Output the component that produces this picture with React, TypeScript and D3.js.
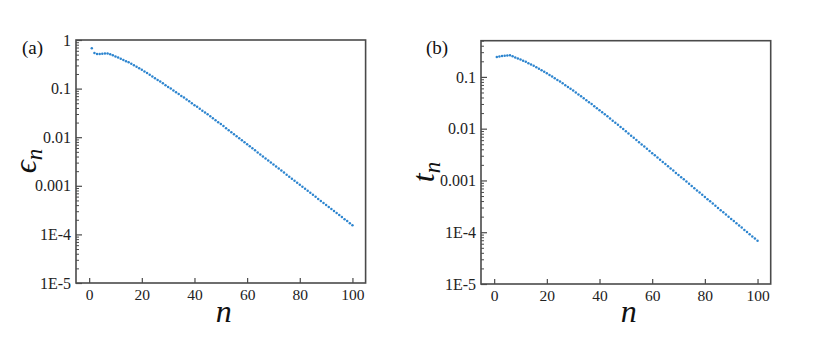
import { useRef, useEffect } from "react";
import * as d3 from "d3";

// values, n = 1..100
const epsilonValues = [
  0.676, 0.537, 0.513, 0.513, 0.519, 0.525, 0.525, 0.507, 0.484, 0.457,
  0.437, 0.412, 0.389, 0.367, 0.347, 0.324, 0.302, 0.282, 0.263, 0.245,
  0.226, 0.209, 0.193, 0.178, 0.164, 0.151, 0.14, 0.129, 0.117, 0.108,
  0.1, 0.0912, 0.0841, 0.0776, 0.0708, 0.0653, 0.0596, 0.055, 0.0501, 0.0457,
  0.0422, 0.0385, 0.0351, 0.0324, 0.0295, 0.0269, 0.0245, 0.0224, 0.0204, 0.0186,
  0.01692, 0.01537, 0.01397, 0.01269, 0.01153, 0.01048, 0.009524, 0.008653, 0.007864, 0.007145,
  0.006493, 0.0059, 0.005361, 0.004872, 0.004426, 0.004022, 0.003655, 0.003321, 0.003018, 0.002742,
  0.002492, 0.002264, 0.002057, 0.001869, 0.001698, 0.001543, 0.001402, 0.001274, 0.001158, 0.001052,
  9.56e-4, 8.69e-4, 7.89e-4, 7.17e-4, 6.52e-4, 5.92e-4, 5.38e-4, 4.89e-4, 4.44e-4, 4.04e-4,
  3.67e-4, 3.33e-4, 3.03e-4, 2.75e-4, 2.5e-4, 2.27e-4, 2.06e-4, 1.88e-4, 1.7e-4, 1.55e-4,
];

const tValues = [
  0.243, 0.248, 0.252, 0.256, 0.259, 0.263, 0.251, 0.237, 0.226, 0.216,
  0.205, 0.195, 0.184, 0.174, 0.164, 0.154, 0.144, 0.135, 0.126, 0.117,
  0.109, 0.102, 0.0944, 0.0875, 0.0811, 0.075, 0.0693, 0.064, 0.059, 0.0543,
  0.05, 0.0459, 0.0422, 0.0387, 0.0355, 0.0325, 0.0298, 0.0272, 0.0249, 0.0228,
  0.0207, 0.0189, 0.0173, 0.0157, 0.0143, 0.013, 0.0119, 0.0108, 0.00982, 0.00891,
  0.00808, 0.00733, 0.00665, 0.00604, 0.00548, 0.00497, 0.00451, 0.00409, 0.00371, 0.00337,
  0.00306, 0.00277, 0.00252, 0.00228, 0.00207, 0.00188, 0.0017, 0.00155, 0.0014, 0.00127,
  0.00115, 0.00105, 9.49e-4, 8.61e-4, 7.81e-4, 7.08e-4, 6.43e-4, 5.83e-4, 5.29e-4, 4.8e-4,
  4.35e-4, 3.95e-4, 3.58e-4, 3.25e-4, 2.95e-4, 2.67e-4, 2.43e-4, 2.2e-4, 2e-4, 1.81e-4,
  1.64e-4, 1.49e-4, 1.35e-4, 1.23e-4, 1.11e-4, 1.01e-4, 9.16e-5, 8.31e-5, 7.54e-5, 6.84e-5,
];

const xTicks = [0, 20, 40, 60, 80, 100];
const epsTicks = [1, 0.1, 0.01, 0.001, 1e-4, 1e-5];
const tTicks = [0.1, 0.01, 0.001, 1e-4, 1e-5];

const W = 830;
const H = 341;
const serif = "Liberation Serif";
const dotColor = "#2d85cf";
const frameColor = "#4a4a4a";

const fmtTick = (v) =>
  v >= 0.001 ? String(v) : `1E${Math.round(Math.log10(v))}`;

const styleText = (sel, size) =>
  sel
    .style("font-family", serif)
    .style("font-size", `${size}px`)
    .attr("fill", "#222");

const drawPanel = (svg, opt) => {
  const { left, right, top, bottom, yMax, values, ticks, tag, sym } = opt;
  const x = d3.scaleLinear().domain([-5, 105]).range([left, right]);
  const y = d3.scaleLog().domain([1e-5, yMax]).range([bottom, top]);
  const g = svg.append("g");

  // minor ticks on the log axis
  const minor = [];
  for (let e = -5; e < 0; e++) {
    for (let m = 2; m <= 9; m++) {
      const v = m * Math.pow(10, e);
      if (v <= yMax) minor.push(v);
    }
  }
  g.append("g")
    .attr("transform", `translate(${left},0)`)
    .call(d3.axisLeft(y).tickValues(minor).tickFormat("").tickSize(-3))
    .call((a) => a.select(".domain").remove())
    .selectAll("line")
    .attr("stroke", frameColor);

  // major y ticks
  const yAx = g.append("g")
    .attr("transform", `translate(${left},0)`)
    .call(
      d3.axisLeft(y).tickValues(ticks).tickFormat(fmtTick).tickSize(-6).tickPadding(5)
    );
  yAx.select(".domain").remove();
  yAx.selectAll("line").attr("stroke", frameColor).attr("stroke-width", 1.2);
  styleText(yAx.selectAll("text"), 16);

  // x ticks
  const xAx = g.append("g")
    .attr("transform", `translate(0,${bottom})`)
    .call(d3.axisBottom(x).tickValues(xTicks).tickSize(-5).tickPadding(6));
  xAx.select(".domain").remove();
  xAx.selectAll("line").attr("stroke", frameColor).attr("stroke-width", 1.2);
  styleText(xAx.selectAll("text"), 15.5);

  // frame
  g.append("rect")
    .attr("x", left)
    .attr("y", top)
    .attr("width", right - left)
    .attr("height", bottom - top)
    .attr("fill", "none")
    .attr("stroke", frameColor)
    .attr("stroke-width", 1.6);

  // dots
  g.selectAll("circle.pt")
    .data(values)
    .enter()
    .append("circle")
    .attr("class", "pt")
    .attr("cx", (d, i) => x(i + 1))
    .attr("cy", (d) => y(d))
    .attr("r", 1.25)
    .attr("fill", dotColor);

  // panel tag
  styleText(
    g.append("text").attr("x", opt.tagX).attr("y", 54).text(tag),
    19
  ).attr("fill", "#111");

  // y label
  const yl = g.append("text")
    .attr("transform", `translate(${opt.labelX},${opt.labelY}) rotate(-90)`)
    .attr("text-anchor", "middle")
    .style("font-family", serif)
    .style("font-style", "italic")
    .style("font-size", "32px")
    .attr("fill", "#111");
  yl.append("tspan").text(sym);
  yl.append("tspan").style("font-size", "23px").attr("dy", 6).text("n");

  // x label
  g.append("text")
    .attr("x", (x(0) + x(100)) / 2 + 3)
    .attr("y", 322)
    .attr("text-anchor", "middle")
    .style("font-family", serif)
    .style("font-style", "italic")
    .style("font-size", "32px")
    .attr("fill", "#111")
    .text("n");
};

const App = () => {
  const ref = useRef(null);

  useEffect(() => {
    const svg = d3.select(ref.current);
    svg.selectAll("*").remove();
    drawPanel(svg, {
      left: 76,
      right: 365.6,
      top: 40,
      bottom: 283,
      yMax: 1,
      values: epsilonValues,
      ticks: epsTicks,
      tag: "(a)",
      tagX: 22,
      labelX: 36,
      labelY: 161,
      sym: "\u03f5",
    });
    drawPanel(svg, {
      left: 481,
      right: 770.7,
      top: 40.7,
      bottom: 284,
      yMax: 0.5,
      values: tValues,
      ticks: tTicks,
      tag: "(b)",
      tagX: 426,
      labelX: 434,
      labelY: 172,
      sym: "t",
    });
  }, []);

  return (
    <svg
      ref={ref}
      width={W}
      height={H}
      style={{ position: "absolute", left: 0, top: 0, background: "#fff" }}
    ></svg>
  );
};

export default App;
